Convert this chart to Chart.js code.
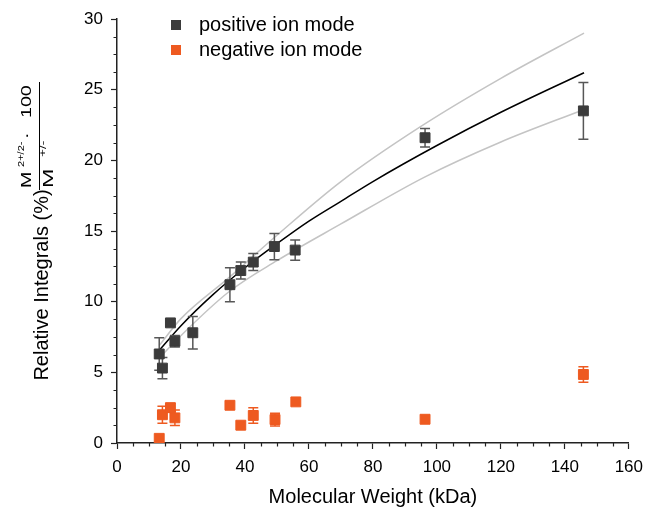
<!DOCTYPE html>
<html>
<head>
<meta charset="utf-8">
<script src="https://cdn.jsdelivr.net/npm/chart.js@4.4.1/dist/chart.umd.min.js"></script>
<style>
html,body{margin:0;padding:0;background:#fff;}
#wrap{width:651px;height:509px;position:relative;}
</style>
</head>
<body>
<div id="wrap"><canvas id="c" width="651" height="509"></canvas></div>
<script>
// ---- data ----
const posLabel = 'positive ion mode';
const negLabel = 'negative ion mode';
const posMW  = [13.2, 14.2, 16.7, 18.1, 23.7, 35.3, 38.7, 42.6, 49.2, 55.7, 96.3, 145.8];
const posRel = [6.3, 5.3, 8.5, 7.2, 7.8, 11.2, 12.2, 12.8, 13.9, 13.65, 21.6, 23.5];
const posErr = [1.15, 0.75, 0, 0.4, 1.15, 1.2, 0.6, 0.6, 0.93, 0.72, 0.65, 2.0];
const negMW  = [13.2, 14.2, 16.7, 18.1, 35.3, 38.7, 42.6, 49.4, 55.9, 96.3, 145.8];
const negRel = [0.33, 2.0, 2.5, 1.78, 2.67, 1.26, 1.95, 1.66, 2.91, 1.68, 4.85];
const negErr = [0, 0.6, 0.3, 0.55, 0, 0, 0.55, 0.45, 0, 0, 0.55];
// fitted curve and its confidence band
const fitMW    = [13.2, 20, 30, 40, 50, 60, 70, 80, 100, 120, 146];
const fitRel   = [6.55, 8.3, 10.5, 12.4, 14.1, 15.7, 17.1, 18.5, 21.05, 23.4, 26.2];
const upperMW  = [13.2, 20, 35, 50, 70, 95, 120, 146];
const upperRel = [6.9, 8.8, 11.7, 14.7, 18.5, 22.4, 25.8, 29.0];
const lowerMW  = [13.2, 20, 35, 50, 70, 96, 120, 146];
const lowerRel = [6.0, 7.6, 10.7, 12.9, 15.5, 18.8, 21.3, 23.6];
const xTickValues = [0, 20, 40, 60, 80, 100, 120, 140, 160];
const yTickValues = [0, 5, 10, 15, 20, 25, 30];
const xTitle = 'Molecular Weight (kDa)';
const yTitle = 'Relative Integrals (%)';

const FONT = "'Liberation Sans', Arial, sans-serif";
const POS_COLOR = '#3b3b3b', POS_ERR = '#575757';
const NEG_COLOR = '#ee5a20', NEG_ERR = '#ee5a20';

const pts = (xs, ys) => xs.map((x, i) => ({x, y: ys[i]}));

const errorBars = {
  id: 'errorBars',
  beforeDatasetDraw(chart, args) {
    const ds = chart.data.datasets[args.index];
    if (!ds.errors) return;
    const xs = chart.scales.x, ys = chart.scales.y, ctx = chart.ctx;
    ctx.save();
    ctx.strokeStyle = ds.errorColor;
    ctx.lineWidth = 1.5;
    ds.data.forEach((p, i) => {
      const e = ds.errors[i];
      if (!e) return;
      const px = xs.getPixelForValue(p.x);
      const t = ys.getPixelForValue(p.y + e), b = ys.getPixelForValue(p.y - e);
      ctx.beginPath();
      ctx.moveTo(px, t); ctx.lineTo(px, b);
      ctx.moveTo(px - 5, t); ctx.lineTo(px + 5, t);
      ctx.moveTo(px - 5, b); ctx.lineTo(px + 5, b);
      ctx.stroke();
    });
    ctx.restore();
  }
};

function stretchedText(ctx, text, u, v, size, sx) {
  ctx.save();
  ctx.translate(u, v);
  ctx.scale(sx, 1);
  ctx.font = size + 'px ' + FONT;
  ctx.fillText(text, 0, 0);
  ctx.restore();
}

const decorations = {
  id: 'decorations',
  afterDraw(chart) {
    const ctx = chart.ctx, xs = chart.scales.x, ys = chart.scales.y;
    const area = chart.chartArea;
    ctx.save();
    // minor ticks
    ctx.strokeStyle = '#222'; ctx.lineWidth = 1.2;
    ctx.beginPath();
    for (let v = 5; v < 160; v += 5) {
      if (v % 20 === 0) continue;
      const px = Math.round(xs.getPixelForValue(v)) + 0.5;
      ctx.moveTo(px, area.bottom); ctx.lineTo(px, area.bottom + 3.5);
    }
    for (let v = 1.25; v < 30; v += 1.25) {
      if (Math.abs(v % 5) < 1e-6) continue;
      const py = Math.round(ys.getPixelForValue(v)) + 0.5;
      ctx.moveTo(area.left, py); ctx.lineTo(area.left - 3.5, py);
    }
    ctx.stroke();

    // y title
    ctx.fillStyle = '#000';
    ctx.save();
    ctx.translate(42, 285);
    ctx.rotate(-Math.PI / 2);
    ctx.font = '20px ' + FONT;
    ctx.textAlign = 'center';
    ctx.textBaseline = 'middle';
    ctx.fillText(yTitle, 0, 0);
    ctx.restore();

    // fraction  M^{2+/2-} · 100 / M^{+/-}
    ctx.save();
    ctx.translate(0, 188);
    ctx.rotate(-Math.PI / 2);
    ctx.textAlign = 'left';
    ctx.textBaseline = 'alphabetic';
    stretchedText(ctx, 'M', 0, 31, 14, 1.4);
    stretchedText(ctx, '2+/2-', 21, 24, 8.5, 1.3);
    stretchedText(ctx, '\u00B7', 49, 31, 14, 1.4);
    stretchedText(ctx, '100', 70, 31, 14, 1.4);
    stretchedText(ctx, 'M', 0, 53, 14.5, 1.6);
    stretchedText(ctx, '+/-', 31, 46, 9, 1.5);
    ctx.restore();
    ctx.strokeStyle = '#000'; ctx.lineWidth = 1;
    ctx.beginPath(); ctx.moveTo(39.5, 82); ctx.lineTo(39.5, 190); ctx.stroke();

    // legend
    const items = [[posLabel, POS_COLOR, 25], [negLabel, NEG_COLOR, 50]];
    items.forEach(([t, c, y]) => {
      ctx.fillStyle = c;
      ctx.fillRect(171, y - 5, 10, 10);
      ctx.fillStyle = '#000';
      ctx.font = '20px ' + FONT;
      ctx.textAlign = 'left';
      ctx.textBaseline = 'middle';
      ctx.fillText(t, 199, y);
    });
    ctx.restore();
  }
};

const lineDs = (label, xs, ys, color, order) => ({
  type: 'line', label, data: pts(xs, ys), borderColor: color, borderWidth: 1.5,
  pointRadius: 0, fill: false, cubicInterpolationMode: 'monotone', order, showLine: true
});

new Chart(document.getElementById('c'), {
  type: 'scatter',
  data: {
    datasets: [
      lineDs('upper', upperMW, upperRel, '#c4c4c4', 5),
      lineDs('lower', lowerMW, lowerRel, '#c4c4c4', 5),
      lineDs('fit', fitMW, fitRel, '#000000', 4),
      { label: posLabel, data: pts(posMW, posRel), errors: posErr, errorColor: POS_ERR,
        pointStyle: 'rect', pointRadius: 7, borderWidth: 1, backgroundColor: POS_COLOR,
        borderColor: POS_COLOR, order: 2 },
      { label: negLabel, data: pts(negMW, negRel), errors: negErr, errorColor: NEG_ERR,
        pointStyle: 'rect', pointRadius: 7, borderWidth: 1, backgroundColor: NEG_COLOR,
        borderColor: NEG_COLOR, order: 1 }
    ]
  },
  options: {
    responsive: false, animation: false,
    layout: { padding: { top: 19, right: 14, left: 0, bottom: 0 } },
    plugins: { legend: { display: false }, tooltip: { enabled: false } },
    scales: {
      x: {
        type: 'linear', min: 0, max: 160,
        afterBuildTicks: s => { s.ticks = xTickValues.map(v => ({value: v})); },
        afterFit: s => { s.height = 66; },
        ticks: { font: { size: 17, family: FONT }, color: '#000', padding: 8, maxRotation: 0 },
        grid: { drawOnChartArea: false, drawTicks: true, tickLength: 6, tickColor: '#222', tickWidth: 1.2 },
        border: { display: true, color: '#222', width: 1.5 },
        title: { display: true, text: xTitle, font: { size: 20, family: FONT }, color: '#000', padding: { top: 0, bottom: 0 } }
      },
      y: {
        type: 'linear', min: 0, max: 30,
        afterBuildTicks: s => { s.ticks = yTickValues.map(v => ({value: v})); },
        afterFit: s => { s.width = 117; },
        ticks: { font: { size: 17, family: FONT }, color: '#000', padding: 8 },
        grid: { drawOnChartArea: false, drawTicks: true, tickLength: 6, tickColor: '#222', tickWidth: 1.2 },
        border: { display: true, color: '#222', width: 1.5 }
      }
    }
  },
  plugins: [errorBars, decorations]
});
</script>
</body>
</html>
